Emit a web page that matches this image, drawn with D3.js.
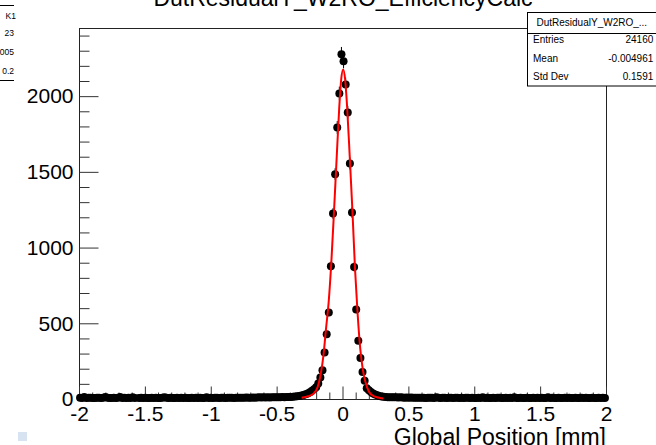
<!DOCTYPE html>
<html>
<head>
<meta charset="utf-8">
<script src="https://cdn.jsdelivr.net/npm/d3@7"></script>
<style>
  body { margin: 0; background: #fff; }
  svg { display: block; font-family: "Liberation Sans", Arial, Helvetica, sans-serif; }
</style>
</head>
<body>
<div id="chart"></div>
<script>
// histogram settings
const histTitle = "DutResidualY_W2RO_EfficiencyCalc";
const xLabel = "Global Position [mm]";
const xMin = -2, xMax = 2, yMax = 2450;

// bin contents, 250 bins of 0.016 mm
const countsLeft = [
  8,7,13,7,8,8,7,6,8,9,7,8,13,8,6,7,9,7,8,13,6,8,7,8,7,
  12,7,0,6,8,7,9,7,6,8,7,8,7,6,8,12,8,7,9,6,7,8,7,8,7,
  8,6,7,8,7,9,7,8,6,7,12,7,9,7,8,8,7,9,8,7,8,9,8,7,9,
  8,9,8,9,10,8,9,10,9,10,11,10,11,
  10,11,10,11,12,11,12,12,13,12,13,13
];
const countsPeak = [
  14,15,16,18,20,23,27,31,37,44,54,64,
  78,102,142,190,307,428,571,877,1225,1485,1793,2018,2277,
  2231,2077,1892,1555,1232,872,591,384,271,179,120,71,
  58,46,36,29,24,20,17,15,13,12,11,11
];
const countsRight = [
  11,11,10,11,10,9,10,9,10,9,8,9,
  8,9,8,7,9,8,8,7,12,8,7,8,9,7,8,8,6,8,9,7,8,7,9,8,7,
  8,7,6,8,7,12,7,8,7,6,8,7,8,9,7,6,8,7,8,7,12,6,7,8,7,
  6,8,7,7,9,6,8,7,8,6,7,12,7,8,6,7,8,7,6,8,7,9,6,7,8,
  7,6,8,7,8,6,7,9,7,6,8,7,8,7
];

// fitted curve, read point by point
const fitX = [-0.31, -0.26, -0.22, -0.19, -0.165, -0.145, -0.125, -0.105, -0.085, -0.065, -0.045, -0.025, -0.01,
              0.005, 0.02, 0.035, 0.055, 0.075, 0.095, 0.115, 0.135, 0.155, 0.175, 0.2, 0.235, 0.27, 0.31];
const fitY = [8, 18, 35, 75, 165, 285, 465, 640, 900, 1230, 1580, 1920, 2110,
              2176, 2110, 1930, 1600, 1250, 860, 560, 330, 190, 110, 50, 20, 10, 4];

const xMajorTicks = [-2, -1.5, -1, -0.5, 0, 0.5, 1, 1.5, 2];
const yMajorTicks = [0, 500, 1000, 1500, 2000];

const statsTitle = "DutResidualY_W2RO_...";
const statsNames = ["Entries", "Mean", "Std Dev"];
const statsValues = ["24160", "-0.004961", "0.1591"];
// stats box of a neighbouring pad, mostly off the left edge
const sideStats = ["K1", "23", "005", "0.2"];

const width = 656, height = 445;
const frame = { left: 79, right: 606, top: 28, bottom: 399 };

const svg = d3.select("#chart").append("svg")
    .attr("width", width)
    .attr("height", height)
    .attr("viewBox", [0, 0, width, height]);

const counts = countsLeft.concat(countsPeak, countsRight);
const binWidth = (xMax - xMin) / counts.length;
const bins = counts.map((c, i) => ({ x: xMin + (i + 0.5) * binWidth, c: c }));

const x = d3.scaleLinear().domain([xMin, xMax]).range([frame.left, frame.right]);
const y = d3.scaleLinear().domain([0, yMax]).range([frame.bottom, frame.top]);

// frame
svg.append("rect")
    .attr("x", frame.left + 0.5)
    .attr("y", frame.top + 0.5)
    .attr("width", frame.right - frame.left)
    .attr("height", frame.bottom - frame.top)
    .attr("fill", "none")
    .attr("stroke", "#222")
    .attr("stroke-width", 1);

// minor ticks
const xMinor = d3.range(-20, 21).map(d => d / 10).filter(d => !xMajorTicks.includes(d));
const yMinor = d3.range(0, 2500, 100).filter(d => d % 500 !== 0);

function styleAxis(g) {
    g.select(".domain").remove();
    g.selectAll(".tick line").attr("stroke", "#333");
    g.selectAll(".tick text").attr("fill", "#000");
}

svg.append("g")
    .attr("transform", `translate(0,${frame.bottom + 0.5})`)
    .call(d3.axisBottom(x).tickValues(xMinor).tickSize(-7).tickFormat(""))
    .call(styleAxis);

svg.append("g")
    .attr("transform", `translate(0,${frame.bottom + 0.5})`)
    .call(d3.axisBottom(x).tickValues(xMajorTicks).tickSize(-13).tickPadding(6.5).tickFormat(d => String(d)))
    .call(styleAxis)
    .selectAll("text")
    .style("font-size", "21px");

svg.append("g")
    .attr("transform", `translate(${frame.left + 0.5},0)`)
    .call(d3.axisLeft(y).tickValues(yMinor).tickSize(-10).tickFormat(""))
    .call(styleAxis);

svg.append("g")
    .attr("transform", `translate(${frame.left + 0.5},0)`)
    .call(d3.axisLeft(y).tickValues(yMajorTicks).tickSize(-19).tickPadding(6).tickFormat(d => String(d)))
    .call(styleAxis)
    .selectAll("text")
    .style("font-size", "21px");

// error bars and markers
const filled = bins.filter(d => d.c > 0);

svg.append("g")
    .attr("stroke", "#000")
    .attr("stroke-width", 1)
    .selectAll("line")
    .data(filled)
    .join("line")
    .attr("x1", d => x(d.x))
    .attr("x2", d => x(d.x))
    .attr("y1", d => y(Math.max(0, d.c - Math.sqrt(d.c))))
    .attr("y2", d => y(d.c + Math.sqrt(d.c)));

svg.append("g")
    .attr("fill", "#000")
    .selectAll("circle")
    .data(filled)
    .join("circle")
    .attr("cx", d => x(d.x))
    .attr("cy", d => y(d.c))
    .attr("r", 4);

// fit
const fitPoints = fitX.map((d, i) => [d, fitY[i]]);
svg.append("path")
    .datum(fitPoints)
    .attr("fill", "none")
    .attr("stroke", "#ff0000")
    .attr("stroke-width", 2)
    .attr("d", d3.line().x(d => x(d[0])).y(d => y(d[1])).curve(d3.curveMonotoneX));

// title, cut off by the top edge
svg.append("text")
    .attr("x", 343)
    .attr("y", 6)
    .attr("text-anchor", "middle")
    .style("font-size", "23px")
    .text(histTitle);

// x axis title
svg.append("text")
    .attr("x", frame.right)
    .attr("y", 445)
    .attr("text-anchor", "end")
    .style("font-size", "23px")
    .text(xLabel);

// stats box
const box = svg.append("g").attr("transform", "translate(527.5,12.5)");
box.append("rect")
    .attr("width", 140)
    .attr("height", 73.5)
    .attr("fill", "#fff")
    .attr("stroke", "#000")
    .attr("stroke-width", 1);
box.append("line")
    .attr("x1", 0).attr("x2", 140)
    .attr("y1", 21).attr("y2", 21)
    .attr("stroke", "#000");
box.append("text")
    .attr("x", 64.3)
    .attr("y", 13.5)
    .attr("text-anchor", "middle")
    .style("font-size", "10px")
    .text(statsTitle);
box.selectAll(".name")
    .data(statsNames)
    .join("text")
    .attr("class", "name")
    .attr("x", 5.5)
    .attr("y", (d, i) => 30.5 + i * 18.5)
    .style("font-size", "10px")
    .text(d => d);
box.selectAll(".val")
    .data(statsValues)
    .join("text")
    .attr("class", "val")
    .attr("x", 125.8)
    .attr("y", (d, i) => 30.5 + i * 18.5)
    .attr("text-anchor", "end")
    .style("font-size", "10px")
    .text(d => d);

// neighbouring stats box on the left
const side = svg.append("g");
side.selectAll("line")
    .data([5.5, 80.5])
    .join("line")
    .attr("x1", 0).attr("x2", 14)
    .attr("y1", d => d).attr("y2", d => d)
    .attr("stroke", "#000");
side.selectAll("text")
    .data(sideStats)
    .join("text")
    .attr("x", (d, i) => i === 0 ? 16 : 14)
    .attr("y", (d, i) => [18.5, 36, 55, 73.5][i])
    .attr("text-anchor", "end")
    .style("font-size", "8.5px")
    .text(d => d);

// small marker square, bottom left
svg.append("rect")
    .attr("x", 18).attr("y", 432)
    .attr("width", 9).attr("height", 9)
    .attr("fill", "#d7e3f0");
</script>
</body>
</html>
